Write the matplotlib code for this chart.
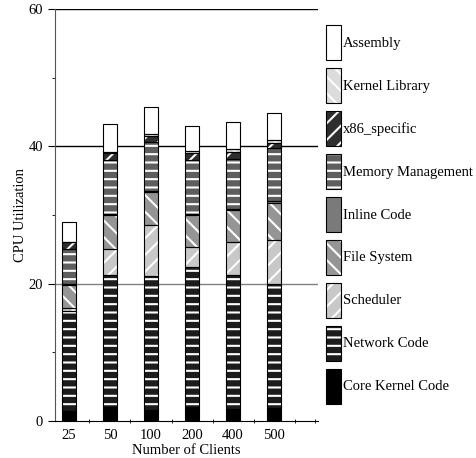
import numpy as np
import matplotlib
matplotlib.use('Agg')
import matplotlib.pyplot as plt
from matplotlib.ticker import MultipleLocator, FixedLocator
from matplotlib.legend_handler import HandlerTuple

# number of clients on the x axis
clients = ['25', '50', '100', '200', '400', '500']

# CPU utilization per kernel part, stacked bottom -> top
core_kernel = [1.5, 2.1, 1.6, 2.0, 1.7, 1.9]
network_code = [14.5, 19.15, 19.5, 20.45, 19.55, 18.1]
scheduler = [0.4, 3.75, 7.5, 2.95, 4.75, 6.3]
file_system = [3.4, 5.0, 4.7, 4.6, 4.7, 5.5]
inline_code = [0.2, 0.2, 0.2, 0.2, 0.2, 0.2]
memory_mgmt = [5.1, 7.8, 7.2, 7.8, 7.3, 7.7]
x86_specific = [0.9, 1.0, 0.8, 1.1, 1.0, 0.8]
kernel_library = [0.1, 0.2, 0.3, 0.2, 0.35, 0.4]
assembly = [2.9, 4.0, 3.9, 3.7, 4.05, 3.9]

series = [
    ('Core Kernel Code', core_kernel, 'black', None),
    ('Network Code', network_code, '#1c1c1c', '--'),
    ('Scheduler', scheduler, '#c8c8c8', '//'),
    ('File System', file_system, '#959595', '\\\\'),
    ('Inline Code', inline_code, '#7a7a7a', None),
    ('Memory Management', memory_mgmt, '#5e5e5e', '--'),
    ('x86_specific', x86_specific, '#2e2e2e', '//'),
    ('Kernel Library', kernel_library, '#dcdcdc', '\\\\'),
    ('Assembly', assembly, 'white', None),
]

plt.rcParams['font.family'] = 'Liberation Serif'
plt.rcParams['font.size'] = 10.5
plt.rcParams['hatch.linewidth'] = 1.5

fig = plt.figure(figsize=(4.76, 4.58), dpi=100)
ax = fig.add_axes([55/476, 37/458, 263/476, 412/458])

x = np.arange(len(clients))
width = 0.34
bottom = np.zeros(len(clients))
handles = []
labels = []
for name, vals, face, hatch in series:
    vals = np.array(vals)
    # fill + white hatch, then black outline on top
    b1 = ax.bar(x, vals, width, bottom=bottom, color=face, edgecolor='white',
                hatch=hatch, linewidth=0, zorder=2)
    b2 = ax.bar(x, vals, width, bottom=bottom, fill=False, edgecolor='black',
                linewidth=0.8, zorder=3)
    handles.append((b1, b2))
    labels.append(name)
    bottom = bottom + vals

# horizontal reference lines
ax.axhline(20, color='#808080', linewidth=1.0, zorder=1)
ax.axhline(40, color='black', linewidth=1.0, zorder=1)
ax.axhline(60, color='black', linewidth=1.0, zorder=1)

ax.set_ylim(0, 60)
ax.set_xlim(-0.34, 6.07)
ax.set_xticks(x)
ax.set_xticklabels(clients)
ax.xaxis.set_minor_locator(FixedLocator(np.arange(-0.5, 6.5, 0.5)))
ax.tick_params(axis='x', which='major', length=0, pad=6)
ax.tick_params(axis='x', which='minor', length=3, direction='inout')
ax.yaxis.set_major_locator(MultipleLocator(20))
ax.yaxis.set_minor_locator(MultipleLocator(10))
ax.tick_params(axis='y', which='major', length=5)
ax.tick_params(axis='y', which='minor', length=2)

for s in ['top', 'right']:
    ax.spines[s].set_visible(False)
ax.spines['left'].set_color('#555555')

ax.set_ylabel('CPU Utilization')
ax.yaxis.set_label_coords(-0.106, 0.5)
ax.set_xlabel('Number of Clients', labelpad=1)

leg = fig.legend(handles[::-1], labels[::-1], loc='upper left',
                 bbox_to_anchor=(326/476, 1 - 25/458), frameon=False,
                 handler_map={tuple: HandlerTuple(ndivide=1)},
                 handlelength=1.0, handleheight=3.31, labelspacing=0.55,
                 handletextpad=0.15, borderpad=0, borderaxespad=0)

fig.savefig('out.png', dpi=100)
